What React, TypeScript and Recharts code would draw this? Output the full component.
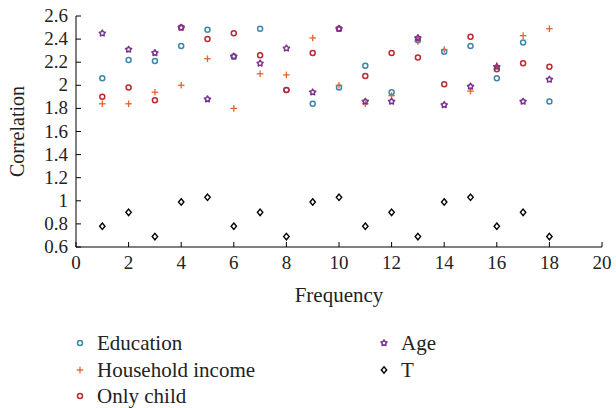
import React from 'react';
import { ScatterChart, Scatter, XAxis, YAxis, Legend } from 'recharts';

const frequencies = [1, 2, 3, 4, 5, 6, 7, 8, 9, 10, 11, 12, 13, 14, 15, 16, 17, 18];
const education = [2.06, 2.22, 2.21, 2.34, 2.48, 2.25, 2.49, 1.96, 1.84, 1.98, 2.17, 1.94, 2.39, 2.29, 2.34, 2.06, 2.37, 1.86];
const householdIncome = [1.84, 1.84, 1.94, 2.0, 2.23, 1.8, 2.1, 2.09, 2.41, 2.0, 1.84, 1.91, 2.38, 2.31, 1.95, 2.17, 2.43, 2.49];
const onlyChild = [1.9, 1.98, 1.87, 2.5, 2.4, 2.45, 2.26, 1.96, 2.28, 2.49, 2.08, 2.28, 2.24, 2.01, 2.42, 2.14, 2.19, 2.16];
const age = [2.45, 2.31, 2.28, 2.5, 1.88, 2.25, 2.19, 2.32, 1.94, 2.49, 1.86, 1.86, 2.41, 1.83, 1.99, 2.16, 1.86, 2.05];
const tValues = [0.78, 0.9, 0.69, 0.99, 1.03, 0.78, 0.9, 0.69, 0.99, 1.03, 0.78, 0.9, 0.69, 0.99, 1.03, 0.78, 0.9, 0.69];

const xTicks = [0, 2, 4, 6, 8, 10, 12, 14, 16, 18, 20];
const yTicks = [0.6, 0.8, 1, 1.2, 1.4, 1.6, 1.8, 2, 2.2, 2.4, 2.6];

const FONT = '"Liberation Serif", "DejaVu Serif", serif';

const toPoints = (vals: number[]) => frequencies.map((f, i) => ({ x: f, y: vals[i] }));

const fmt = (v: number) => String(Math.round(v * 10) / 10);

// marker shapes
const circleMarker = (color: string) => (p: any) => (
  <circle cx={p.cx} cy={p.cy} r={2.5} fill="none" stroke={color} strokeWidth={1.5} />
);
const plusMarker = (color: string) => (p: any) => (
  <g stroke={color} strokeWidth={1.3}>
    <line x1={p.cx - 3.3} x2={p.cx + 3.3} y1={p.cy} y2={p.cy} />
    <line x1={p.cx} x2={p.cx} y1={p.cy - 3.3} y2={p.cy + 3.3} />
  </g>
);
const starPath = (cx: number, cy: number, ro: number, ri: number) => {
  let d = '';
  for (let k = 0; k < 10; k++) {
    const r = k % 2 === 0 ? ro : ri;
    const a = -Math.PI / 2 + (k * Math.PI) / 5;
    d += (k === 0 ? 'M' : 'L') + (cx + r * Math.cos(a)).toFixed(2) + ',' + (cy + r * Math.sin(a)).toFixed(2);
  }
  return d + 'Z';
};
const starMarker = (color: string) => (p: any) => (
  <path d={starPath(p.cx, p.cy, 3.2, 1.8)} fill="none" stroke={color} strokeWidth={1.5} strokeLinejoin="round" />
);
const diamondMarker = (color: string) => (p: any) => (
  <path
    d={`M${p.cx},${p.cy - 3.2}L${p.cx + 2.7},${p.cy}L${p.cx},${p.cy + 3.2}L${p.cx - 2.7},${p.cy}Z`}
    fill="none"
    stroke={color}
    strokeWidth={1.4}
  />
);

const series = [
  { name: 'Education', data: education, color: '#3f86aa', marker: circleMarker },
  { name: 'Household income', data: householdIncome, color: '#e8622c', marker: plusMarker },
  { name: 'Only child', data: onlyChild, color: '#bb2a32', marker: circleMarker },
  { name: 'Age', data: age, color: '#7b3391', marker: starMarker },
  { name: 'T', data: tValues, color: '#000000', marker: diamondMarker },
];

const BottomTick = (props: any) => {
  const { x, y, payload } = props;
  return (
    <g>
      <line x1={x} x2={x} y1={y} y2={y - 5} stroke="#000" />
      <text x={x} y={y + 22} textAnchor="middle" fontFamily={FONT} fontSize={19} fill="#222">
        {fmt(payload.value)}
      </text>
    </g>
  );
};
const TopTick = (props: any) => (
  <line x1={props.x} x2={props.x} y1={props.y} y2={props.y + 5} stroke="#000" />
);
const LeftTick = (props: any) => {
  const { x, y, payload } = props;
  return (
    <g>
      <line x1={x + 8} x2={x + 13} y1={y} y2={y} stroke="#000" />
      <text x={x} y={y + 6} textAnchor="end" fontFamily={FONT} fontSize={19} fill="#222">
        {fmt(payload.value)}
      </text>
    </g>
  );
};
const RightTick = (props: any) => (
  <line x1={props.x} x2={props.x - 5} y1={props.y} y2={props.y} stroke="#000" />
);

const LegendContent = () => (
  <div style={{ position: 'relative', width: 616, height: 80, fontFamily: FONT, fontSize: 21, color: '#222' }}>
    {series.map((s, i) => {
      const col = i < 3 ? 0 : 1;
      const row = i < 3 ? i : i - 3;
      const mx = col === 0 ? 80 : 384;
      const cy = 15 + row * 26.5;
      const Marker = s.marker(s.color);
      return (
        <div key={s.name}>
          <svg width={12} height={12} style={{ position: 'absolute', left: mx - 6, top: cy - 6 }}>
            <Marker cx={6} cy={6} />
          </svg>
          <span style={{ position: 'absolute', left: mx + 17, top: cy - 13, lineHeight: '26px', whiteSpace: 'nowrap' }}>
            {s.name}
          </span>
        </div>
      );
    })}
  </div>
);

export default function App() {
  return (
    <div style={{ position: 'absolute', left: 0, top: 0, width: 616, height: 408, background: '#fff' }}>
      <ScatterChart width={616} height={408} margin={{ top: 16, right: 14, bottom: 101, left: 30 }}>
        <XAxis
          xAxisId="bottom"
          dataKey="x"
          type="number"
          domain={[0, 20]}
          ticks={xTicks}
          interval={0}
          height={60}
          tickSize={0}
          tickMargin={0}
          tick={<BottomTick />}
          axisLine={{ stroke: '#000' }}
          label={{
            content: (p: any) => (
              <text
                x={p.viewBox.x + p.viewBox.width / 2}
                y={p.viewBox.y + 55}
                textAnchor="middle"
                fontFamily={FONT}
                fontSize={21}
                fill="#222"
              >
                Frequency
              </text>
            ),
          }}
        />
        <XAxis
          xAxisId="top"
          orientation="top"
          type="number"
          domain={[0, 20]}
          ticks={xTicks}
          interval={0}
          height={0}
          tickSize={0}
          tickMargin={0}
          tick={<TopTick />}
          axisLine={{ stroke: '#000' }}
        />
        <YAxis
          yAxisId="left"
          dataKey="y"
          type="number"
          domain={[0.6, 2.6]}
          ticks={yTicks}
          interval={0}
          width={46}
          tickSize={0}
          tickMargin={8}
          tick={<LeftTick />}
          axisLine={{ stroke: '#000' }}
          label={{
            content: (p: any) => {
              const cx = p.viewBox.x - 12;
              const cy = p.viewBox.y + p.viewBox.height / 2;
              return (
                <text
                  x={cx}
                  y={cy}
                  dy={6}
                  transform={`rotate(-90, ${cx}, ${cy})`}
                  textAnchor="middle"
                  fontFamily={FONT}
                  fontSize={20}
                  fill="#222"
                >
                  Correlation
                </text>
              );
            },
          }}
        />
        <YAxis
          yAxisId="right"
          orientation="right"
          type="number"
          domain={[0.6, 2.6]}
          ticks={yTicks}
          interval={0}
          width={0}
          tickSize={0}
          tickMargin={0}
          tick={<RightTick />}
          axisLine={{ stroke: '#000' }}
        />
        <Legend
          layout="vertical"
          align="center"
          verticalAlign="middle"
          wrapperStyle={{ left: 0, top: 328, width: 616 }}
          content={<LegendContent />}
        />
        {series.map((s) => (
          <Scatter
            key={s.name}
            name={s.name}
            data={toPoints(s.data)}
            xAxisId="bottom"
            yAxisId="left"
            fill={s.color}
            shape={s.marker(s.color)}
            isAnimationActive={false}
          />
        ))}
      </ScatterChart>
    </div>
  );
}
